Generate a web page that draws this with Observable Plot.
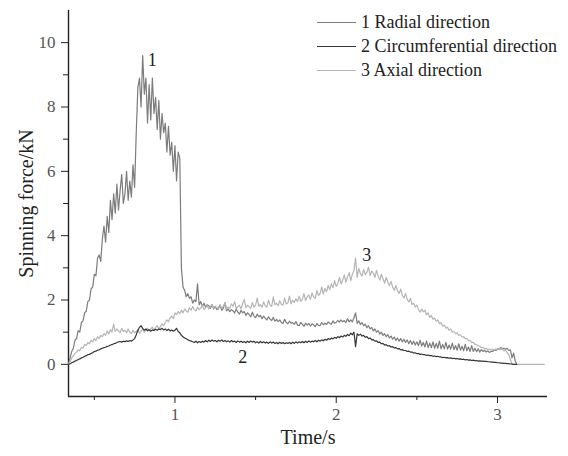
<!DOCTYPE html>
<html><head><meta charset="utf-8">
<script src="https://cdn.jsdelivr.net/npm/d3@7"></script>
<script src="https://cdn.jsdelivr.net/npm/@observablehq/plot@0.6"></script>
<style>
body{margin:0;background:#fff;}
#wrap{position:relative;width:568px;height:456px;font-family:"Liberation Serif","Times New Roman",serif;}
#wrap svg, #wrap svg text{font-family:"Liberation Serif","Times New Roman",serif !important;}
#legend{position:absolute;left:317px;top:10px;font-size:18px;color:#222;line-height:24px;}
.row{display:flex;align-items:center;white-space:nowrap;height:24px}
.sw{width:39px;height:0;border-top:1.3px solid;margin-right:5px}
</style></head>
<body><div id="wrap"><div id="legend"></div></div>
<script>
// time grid: t = t0 + i*dt (rows of 10 values; the comment is the row's first time)
const t0 = 0.34, dt = 0.01;
const radial = [
/*0.34*/ 0,0.2,0.4,0.5,0.75,0.8,1.05,1.0,1.3,1.35,
/*0.44*/ 1.6,1.65,1.95,2.0,2.35,2.4,2.8,2.75,3.3,3.4,
/*0.54*/ 3.2,3.9,4.3,3.8,4.6,4.1,5.1,4.5,5.3,4.7,
/*0.64*/ 5.6,4.8,5.4,5.9,5.0,5.3,6.0,5.1,5.7,5.2,
/*0.74*/ 6.2,5.5,7.2,8.6,8.9,8.0,9.6,8.4,8.9,7.5,
/*0.84*/ 8.7,7.6,8.9,7.8,8.3,7.3,8.2,7.0,7.8,7.2,
/*0.94*/ 7.5,6.6,7.4,6.5,6.9,6.0,6.8,5.7,6.6,6.4,
/*1.04*/ 3.0,2.4,2.3,2.1,2.2,2.05,2.1,1.9,2.0,1.95,
/*1.14*/ 2.5,1.85,1.95,1.8,1.9,1.78,1.85,1.82,1.74,1.86,
/*1.24*/ 1.72,1.8,1.7,1.76,1.84,1.68,1.74,1.92,1.66,1.72,
/*1.34*/ 1.64,1.7,1.66,1.6,1.72,1.62,1.56,1.68,1.6,1.64,
/*1.44*/ 1.52,1.6,1.55,1.48,1.62,1.5,1.45,1.56,1.48,1.52,
/*1.54*/ 1.42,1.5,1.44,1.38,1.48,1.4,1.36,1.46,1.34,1.4,
/*1.64*/ 1.33,1.38,1.3,1.27,1.4,1.3,1.26,1.34,1.28,1.3,
/*1.74*/ 1.24,1.33,1.22,1.2,1.3,1.25,1.18,1.28,1.22,1.27,
/*1.84*/ 1.19,1.26,1.23,1.17,1.27,1.21,1.2,1.3,1.23,1.28,
/*1.94*/ 1.24,1.32,1.27,1.25,1.35,1.28,1.3,1.37,1.31,1.38,
/*2.04*/ 1.32,1.36,1.3,1.42,1.32,1.38,1.32,1.45,1.6,1.27,
/*2.14*/ 1.35,1.24,1.3,1.2,1.25,1.14,1.2,1.1,1.15,1.04,
/*2.24*/ 1.1,1.0,1.05,0.94,1.0,0.9,0.95,0.86,0.92,0.82,
/*2.34*/ 0.88,0.78,0.85,0.74,0.82,0.72,0.8,0.7,0.78,0.68,
/*2.44*/ 0.76,0.64,0.74,0.62,0.72,0.6,0.7,0.58,0.75,0.57,
/*2.54*/ 0.68,0.54,0.72,0.52,0.66,0.52,0.7,0.5,0.65,0.5,
/*2.64*/ 0.72,0.48,0.62,0.48,0.68,0.47,0.6,0.47,0.66,0.46,
/*2.74*/ 0.58,0.44,0.64,0.44,0.56,0.42,0.62,0.42,0.54,0.4,
/*2.84*/ 0.58,0.4,0.5,0.39,0.48,0.38,0.46,0.4,0.44,0.38,
/*2.94*/ 0.42,0.37,0.4,0.4,0.45,0.43,0.48,0.47,0.52,0.49,
/*3.04*/ 0.5,0.47,0.5,0.43,0.45,0.2,0.35,0.1,0.0
];
const circumferential = [
/*0.34*/ 0,0.02,0.05,0.07,0.1,0.12,0.15,0.17,0.2,0.22,
/*0.44*/ 0.25,0.27,0.3,0.31,0.34,0.36,0.4,0.41,0.44,0.45,
/*0.54*/ 0.48,0.5,0.52,0.53,0.56,0.57,0.6,0.61,0.64,0.65,
/*0.64*/ 0.68,0.7,0.71,0.69,0.72,0.7,0.73,0.71,0.74,0.72,
/*0.74*/ 0.76,0.8,0.92,1.05,1.15,1.2,1.12,1.06,1.1,1.04,
/*0.84*/ 1.08,1.03,1.07,1.05,1.09,1.06,1.1,1.08,1.12,1.07,
/*0.94*/ 1.1,1.05,1.09,1.04,1.07,1.03,1.06,1.12,1.02,0.98,
/*1.04*/ 0.9,0.86,0.82,0.8,0.76,0.74,0.72,0.7,0.68,0.72,
/*1.14*/ 0.67,0.71,0.68,0.72,0.69,0.74,0.7,0.75,0.71,0.76,
/*1.24*/ 0.72,0.74,0.7,0.75,0.72,0.76,0.71,0.74,0.7,0.73,
/*1.34*/ 0.69,0.74,0.7,0.72,0.68,0.73,0.69,0.72,0.68,0.71,
/*1.44*/ 0.67,0.72,0.68,0.73,0.69,0.72,0.67,0.7,0.66,0.71,
/*1.54*/ 0.67,0.7,0.66,0.69,0.65,0.7,0.66,0.69,0.65,0.68,
/*1.64*/ 0.64,0.69,0.65,0.68,0.64,0.67,0.65,0.68,0.64,0.69,
/*1.74*/ 0.65,0.7,0.66,0.7,0.67,0.71,0.67,0.72,0.68,0.73,
/*1.84*/ 0.69,0.72,0.7,0.74,0.7,0.75,0.72,0.76,0.73,0.78,
/*1.94*/ 0.75,0.8,0.77,0.82,0.79,0.84,0.81,0.86,0.83,0.88,
/*2.04*/ 0.85,0.9,0.87,0.93,0.89,0.97,0.92,1.0,0.55,0.95,
/*2.14*/ 0.9,0.94,0.88,0.9,0.84,0.86,0.8,0.82,0.76,0.77,
/*2.24*/ 0.72,0.73,0.68,0.69,0.64,0.65,0.6,0.61,0.57,0.58,
/*2.34*/ 0.54,0.55,0.51,0.52,0.48,0.49,0.45,0.46,0.43,0.43,
/*2.44*/ 0.4,0.41,0.38,0.38,0.35,0.36,0.33,0.34,0.31,0.32,
/*2.54*/ 0.3,0.3,0.28,0.29,0.27,0.27,0.25,0.26,0.24,0.25,
/*2.64*/ 0.23,0.23,0.21,0.22,0.2,0.21,0.19,0.2,0.18,0.19,
/*2.74*/ 0.17,0.18,0.16,0.17,0.15,0.16,0.14,0.15,0.13,0.14,
/*2.84*/ 0.12,0.13,0.11,0.12,0.1,0.11,0.1,0.1,0.09,0.09,
/*2.94*/ 0.08,0.08,0.07,0.07,0.06,0.06,0.05,0.05,0.04,0.04,
/*3.04*/ 0.03,0.03,0.02,0.02,0.01,0.01,0.0,0.0,0.0
];
const axial = [
/*0.34*/ 0,0.1,0.2,0.26,0.34,0.38,0.45,0.42,0.53,0.5,
/*0.44*/ 0.62,0.58,0.68,0.64,0.75,0.7,0.8,0.74,0.86,0.8,
/*0.54*/ 0.9,0.86,0.96,0.9,1.04,0.94,1.08,1.0,1.25,1.02,
/*0.64*/ 1.1,1.04,0.98,1.12,1.02,1.06,0.98,1.1,1.0,0.96,
/*0.74*/ 1.06,0.98,1.02,1.08,0.97,1.04,1.1,1.0,1.06,1.12,
/*0.84*/ 1.04,1.1,1.16,1.06,1.14,1.2,1.1,1.18,1.26,1.2,
/*0.94*/ 1.3,1.38,1.32,1.45,1.5,1.42,1.6,1.55,1.64,1.58,
/*1.04*/ 1.68,1.6,1.72,1.66,1.62,1.76,1.68,1.8,1.7,1.66,
/*1.14*/ 1.78,1.7,1.74,1.84,1.7,1.76,1.82,1.72,1.8,1.86,
/*1.24*/ 1.74,1.8,1.76,1.7,1.86,1.74,1.8,1.92,1.72,1.78,
/*1.34*/ 1.74,1.88,1.8,1.95,1.73,1.79,1.84,1.72,1.9,2.02,
/*1.44*/ 1.76,1.84,1.8,1.74,1.92,1.78,1.84,2.06,1.8,1.86,
/*1.54*/ 1.77,1.94,1.82,1.78,2.0,1.84,1.8,2.1,1.85,1.9,
/*1.64*/ 1.82,1.98,1.86,1.84,2.06,1.88,1.9,2.12,1.88,2.0,
/*1.74*/ 1.92,2.04,1.95,2.12,1.96,2.02,2.2,1.98,2.1,2.16,
/*1.84*/ 2.02,2.22,2.1,2.05,2.3,2.14,2.2,2.4,2.18,2.36,
/*1.94*/ 2.26,2.45,2.32,2.5,2.38,2.6,2.42,2.52,2.7,2.5,
/*2.04*/ 2.62,2.78,2.55,2.72,2.85,2.6,2.8,2.92,3.3,2.7,
/*2.14*/ 2.98,2.82,2.74,2.95,2.78,2.86,3.02,2.76,2.9,2.84,
/*2.24*/ 2.7,2.92,2.75,2.62,2.8,2.66,2.52,2.7,2.56,2.44,
/*2.34*/ 2.58,2.4,2.3,2.45,2.28,2.2,2.34,2.14,2.06,2.2,
/*2.44*/ 2.02,1.94,2.05,1.86,1.9,1.78,1.84,1.7,1.62,1.72,
/*2.54*/ 1.63,1.68,1.54,1.6,1.46,1.52,1.4,1.44,1.34,1.38,
/*2.64*/ 1.26,1.3,1.18,1.22,1.12,1.15,1.06,1.1,1.0,1.02,
/*2.74*/ 0.95,0.98,0.9,0.92,0.85,0.86,0.8,0.8,0.74,0.74,
/*2.84*/ 0.68,0.68,0.62,0.62,0.57,0.57,0.52,0.53,0.48,0.5,
/*2.94*/ 0.45,0.48,0.44,0.47,0.44,0.48,0.45,0.5,0.46,0.48,
/*3.04*/ 0.42,0.44,0.36,0.3,0.15,0.0,0,0,0,0,
/*3.14*/ 0,0,0,0,0,0,0,0,0,0,
/*3.24*/ 0,0,0,0,0,0
];
const seriesNames = ["1 Radial direction", "2 Circumferential direction", "3 Axial direction"];
const seriesColors = ["#7c7c7c", "#363636", "#b5b5b5"];
const xDomain = [0.34, 3.31];
const yDomain = [-1, 11];
const xMajorTicks = [1, 2, 3];
const xMinorTicks = [0.5, 1.5, 2.5];
const yMajorTicks = [0, 2, 4, 6, 8, 10];
const yMinorTicks = [1, 3, 5, 7, 9];
const xLabel = "Time/s";
const yLabel = "Spinning force/kN";
const curveLabels = [
  {label: "1", t: 0.86, v: 9.46},
  {label: "2", t: 1.42, v: 0.22},
  {label: "3", t: 2.19, v: 3.38}
];

const toRows = (vals, name) => vals.map((v, i) => ({t: +(t0 + i * dt).toFixed(3), v, s: name}));
const rows = [
  ...toRows(radial, seriesNames[0]),
  ...toRows(axial, seriesNames[2]),
  ...toRows(circumferential, seriesNames[1])
];
const FONT = '"Liberation Serif","Times New Roman",serif';

const chart = Plot.plot({
  width: 568, height: 456,
  marginLeft: 68, marginRight: 21, marginTop: 10, marginBottom: 60,
  style: {fontFamily: FONT, background: "#fff", color: "#222"},
  x: {domain: xDomain},
  y: {domain: yDomain},
  color: {domain: seriesNames, range: seriesColors},
  marks: [
    Plot.axisX(xMinorTicks, {tickSize: 4, tickFormat: () => "", label: null, stroke: "#222"}),
    Plot.axisX(xMajorTicks, {tickSize: 7, tickPadding: 4, fontSize: 17, fontFamily: FONT, fill: "#555", stroke: "#222", label: null, tickFormat: d => String(d)}),
    Plot.axisY(yMinorTicks, {tickSize: 5, tickFormat: () => "", label: null, stroke: "#222"}),
    Plot.axisY(yMajorTicks, {tickSize: 7, tickPadding: 6, fontSize: 17, fontFamily: FONT, fill: "#555", stroke: "#222", label: null, tickFormat: d => String(d)}),
    Plot.ruleX([xDomain[0]], {stroke: "#222", strokeWidth: 1.4}),
    Plot.ruleY([yDomain[0]], {stroke: "#222", strokeWidth: 1.4}),
    Plot.line(rows, {x: "t", y: "v", z: "s", stroke: "s", strokeWidth: 1.2}),
    Plot.text(curveLabels, {x: "t", y: "v", text: "label", fontSize: 18, fontFamily: FONT, fill: "#222"}),
    Plot.text([xLabel], {frameAnchor: "bottom", textAnchor: "middle", dy: 47, fontSize: 20, fontFamily: FONT, fill: "#222"}),
    Plot.text([yLabel], {frameAnchor: "left", textAnchor: "middle", dx: -42, rotate: -90, fontSize: 20, fontFamily: FONT, fill: "#222"})
  ]
});
document.getElementById("wrap").prepend(chart);

const legend = document.getElementById("legend");
seriesNames.forEach((n, i) => {
  const r = document.createElement("div");
  r.className = "row";
  const sw = document.createElement("span");
  sw.className = "sw";
  sw.style.borderTopColor = seriesColors[i];
  const tx = document.createElement("span");
  tx.textContent = n;
  r.append(sw, tx);
  legend.append(r);
});
</script>
</body></html>
